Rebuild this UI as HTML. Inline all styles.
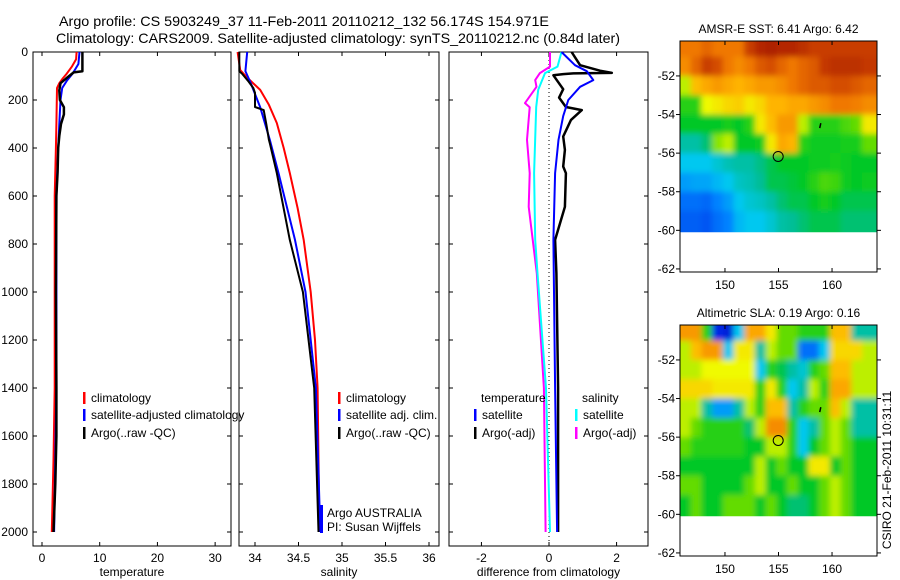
<!DOCTYPE html>
<html><head><meta charset="utf-8"><style>
html,body{margin:0;padding:0;background:#fff;}
svg{display:block;font-family:"Liberation Sans",sans-serif;}
</style></head><body>
<svg id="fig" width="900" height="580" viewBox="0 0 900 580">
<defs id="defs">
<filter id="blur" x="-5%" y="-5%" width="110%" height="110%"><feGaussianBlur stdDeviation="3"/></filter>
</defs>
<text x="59" y="26" font-size="14" textLength="490" lengthAdjust="spacingAndGlyphs">Argo profile: CS 5903249_37 11-Feb-2011 20110212_132 56.174S 154.971E</text>
<text x="56" y="43" font-size="14" textLength="564" lengthAdjust="spacingAndGlyphs">Climatology: CARS2009. Satellite-adjusted climatology: synTS_20110212.nc (0.84d later)</text>
<g id="g"></g>
</svg>
<script>
// ---------- DATA ----------
const depthTicks=[0,200,400,600,800,1000,1200,1400,1600,1800,2000];
const tTicks=[0,10,20,30];
const sTicks=[34,34.5,35,35.5,36];
const sTickLabels=["34","34.5","35","35.5","36"];
const dTicks=[-2,0,2];
// temperature profiles [depth, value]
const tClimDepth=[0,30,60,90,110,130,150,300,400,600,800,1000,1400,1700,2000];
const tClimVal=[6.0,5.9,5.2,4.3,3.6,3.0,2.6,2.5,2.4,2.2,2.2,2.2,2.2,2.0,1.7];
const tSatDepth=[0,50,90,120,150,200,300,400,600,1000,1400,2000];
const tSatVal=[6.5,6.3,5.3,4.3,3.5,3.2,3.0,2.8,2.5,2.5,2.5,2.1];
const tArgoDepth=[0,80,85,110,130,160,200,230,260,300,350,400,500,600,1000,1400,1600,1800,2000];
const tArgoVal=[7.0,7.0,5.5,4.2,3.2,3.0,3.1,3.8,3.8,3.3,3.0,2.8,2.7,2.5,2.4,2.5,2.5,2.3,2.0];
// salinity profiles
const sClimDepth=[0,75,110,158,220,296,400,504,650,783,1000,1200,1400,1700,2000];
const sClimVal=[33.80,33.83,33.92,34.06,34.16,34.25,34.33,34.40,34.49,34.56,34.64,34.69,34.72,34.73,34.74];
const sSatDepth=[0,80,129,230,366,504,783,1000,1400,2000];
const sSatVal=[33.91,33.89,33.95,34.06,34.17,34.27,34.46,34.58,34.70,34.75];
const sArgoDepth=[0,80,90,120,150,170,200,229,242,300,366,380,504,783,1000,1400,2000];
const sArgoVal=[33.82,33.82,33.85,33.92,33.98,34.00,34.00,34.00,34.10,34.13,34.16,34.17,34.25,34.40,34.55,34.68,34.73];
// differences from climatology
const dTsatDepth=[0,55,80,117,145,200,267,366,505,783,1400,2000];
const dTsatVal=[0.37,0.77,1.12,1.31,0.92,0.57,0.42,0.28,0.18,0.13,0.18,0.24];
const dTargoDepth=[0,55,78,87,89,92,97,155,190,229,242,283,352,408,477,505,645,783,922,1400,2000];
const dTargoVal=[0.67,0.92,1.51,1.86,0.72,0.42,0.13,0.42,0.3,0.5,0.97,0.65,0.42,0.47,0.42,0.5,0.47,0.18,0.22,0.27,0.27];
const dSsatDepth=[0,61,88,158,229,505,783,922,1400,2000];
const dSsatVal=[0.37,0.25,-0.12,-0.32,-0.38,-0.44,-0.41,-0.34,-0.09,0.03];
const dSargoDepth=[0,61,88,117,145,213,230,366,505,645,922,1400,2000];
const dSargoVal=[0.03,0.03,-0.27,-0.41,-0.37,-0.71,-0.57,-0.65,-0.57,-0.6,-0.36,-0.15,-0.1];
// maps
const mapLons=[146,147,148,149,150,151,152,153,154,155,156,157,158,159,160,161,162,163];
const mapLats=[-50.2,-51.2,-52.2,-53.2,-54.2,-55.2,-56.2,-57.2,-58.2,-59.2];
const lonTicks=[150,155,160];
const latTicks=[-52,-54,-56,-58,-60,-62];
const sstGrid=[
[0.75,0.75,0.78,0.75,0.75,0.75,0.85,0.9,0.92,0.9,0.9,0.88,0.85,0.85,0.85,0.85,0.85,0.85],
[0.72,0.78,0.85,0.82,0.75,0.72,0.75,0.8,0.82,0.78,0.75,0.78,0.8,0.86,0.88,0.88,0.88,0.86],
[0.55,0.65,0.68,0.7,0.68,0.66,0.68,0.7,0.7,0.72,0.75,0.78,0.8,0.8,0.82,0.82,0.8,0.78],
[0.45,0.45,0.58,0.6,0.62,0.63,0.6,0.62,0.66,0.66,0.68,0.68,0.7,0.72,0.75,0.75,0.74,0.72],
[0.42,0.42,0.42,0.42,0.44,0.42,0.45,0.6,0.65,0.7,0.7,0.55,0.45,0.45,0.45,0.48,0.5,0.6],
[0.35,0.35,0.38,0.52,0.55,0.42,0.42,0.43,0.6,0.68,0.66,0.45,0.43,0.43,0.43,0.44,0.44,0.5],
[0.3,0.3,0.3,0.32,0.34,0.35,0.35,0.37,0.4,0.42,0.42,0.42,0.43,0.43,0.44,0.43,0.42,0.42],
[0.25,0.26,0.26,0.28,0.3,0.33,0.34,0.36,0.4,0.4,0.41,0.42,0.45,0.48,0.47,0.43,0.42,0.43],
[0.2,0.2,0.19,0.22,0.25,0.3,0.32,0.33,0.35,0.38,0.4,0.4,0.42,0.44,0.42,0.4,0.4,0.4],
[0.18,0.18,0.17,0.2,0.22,0.28,0.3,0.3,0.32,0.35,0.36,0.38,0.4,0.4,0.4,0.38,0.38,0.38]];
const slaGrid=[
[0.7,0.7,0.45,0.12,0.1,0.3,0.68,0.68,0.6,0.5,0.5,0.45,0.45,0.45,0.65,0.65,0.35,0.35],
[0.55,0.65,0.7,0.7,0.3,0.6,0.6,0.35,0.55,0.5,0.5,0.2,0.2,0.3,0.62,0.62,0.62,0.55],
[0.55,0.55,0.58,0.58,0.58,0.58,0.58,0.3,0.45,0.4,0.35,0.32,0.45,0.5,0.65,0.65,0.55,0.55],
[0.62,0.62,0.62,0.6,0.6,0.6,0.6,0.45,0.6,0.45,0.3,0.35,0.55,0.45,0.68,0.68,0.55,0.55],
[0.55,0.55,0.35,0.25,0.25,0.35,0.55,0.45,0.65,0.65,0.35,0.45,0.5,0.5,0.65,0.55,0.35,0.35],
[0.55,0.5,0.45,0.45,0.45,0.45,0.38,0.55,0.72,0.72,0.45,0.3,0.35,0.5,0.55,0.5,0.35,0.35],
[0.5,0.45,0.45,0.45,0.45,0.45,0.42,0.42,0.55,0.55,0.45,0.3,0.42,0.5,0.55,0.5,0.42,0.42],
[0.42,0.42,0.42,0.42,0.42,0.42,0.42,0.55,0.42,0.5,0.42,0.42,0.6,0.6,0.42,0.5,0.42,0.42],
[0.5,0.5,0.42,0.42,0.42,0.42,0.5,0.55,0.42,0.42,0.5,0.42,0.42,0.5,0.55,0.5,0.42,0.42],
[0.42,0.5,0.42,0.42,0.5,0.5,0.5,0.42,0.5,0.42,0.38,0.38,0.42,0.5,0.55,0.5,0.42,0.42]];
const argoLon=[154.971];
const argoLat=[-56.174];

// ---------- DRAWING ----------
const NS="http://www.w3.org/2000/svg";
const root=document.getElementById('g');
const defs=document.getElementById('defs');
function mk(tag,attrs,parent){const e=document.createElementNS(NS,tag);for(const k in attrs)e.setAttribute(k,attrs[k]);(parent||root).appendChild(e);return e;}
function txt(x,y,s,size,anchor,parent){const t=mk('text',{x:x,y:y,'font-size':size,'text-anchor':anchor||'start'},parent);t.textContent=s;return t;}

const PTOP=52, PBOT=546;
function yD(d){return PTOP+d*0.24;}
const panels=[
 {x0:33,x1:231,v0:-1.56,v1:32.75,name:'temperature-panel'},
 {x0:239,x1:439,v0:33.816,v1:36.115,name:'salinity-panel'},
 {x0:449,x1:648,v0:-2.96,v1:2.93,name:'difference-panel'}];
function xf(p){return v=>p.x0+(v-p.v0)/(p.v1-p.v0)*(p.x1-p.x0);}

function drawFrame(p,ticks,labels,xlabel,leftLabels){
  const g=mk('g',{});
  
  
  const X=xf(p);
  mk('rect',{x:p.x0,y:PTOP,width:p.x1-p.x0,height:PBOT-PTOP,fill:'none',stroke:'#000','stroke-width':1},g);
  ticks.forEach((v,i)=>{const x=X(v);
    mk('line',{x1:x,y1:PBOT,x2:x,y2:PBOT-4,stroke:'#000'},g);
    mk('line',{x1:x,y1:PTOP,x2:x,y2:PTOP+4,stroke:'#000'},g);
    const t=txt(x,562,labels[i],12,'middle',g);
    
    });
  depthTicks.forEach(d=>{const y=yD(d);
    mk('line',{x1:p.x0,y1:y,x2:p.x0+4,y2:y,stroke:'#000'},g);
    mk('line',{x1:p.x1,y1:y,x2:p.x1-4,y2:y,stroke:'#000'},g);
    if(leftLabels){const t=txt(p.x0-5,y+4,String(d),12,'end',g);
      
      }});
  const xl=txt((p.x0+p.x1)/2,576,xlabel,12,'middle',g);
  
  
  return g;
}
function line(p,depths,vals,color,w,name){
  const X=xf(p);
  const pts=depths.map((d,i)=>X(vals[i]).toFixed(1)+','+yD(d).toFixed(1)).join(' ');
  const e=mk('polyline',{points:pts,fill:'none',stroke:color,'stroke-width':w,'stroke-linejoin':'round'});
  
  
}
function legend(x,y,color,label,name){
  const g=mk('g',{});
  
  
  mk('rect',{x:x,y:y-10,width:2.5,height:12,fill:color},g);
  txt(x+8,y,label,12,'start',g);
}

drawFrame(panels[0],tTicks,tTicks.map(String),'temperature',true);
drawFrame(panels[1],sTicks,sTickLabels,'salinity',false);
drawFrame(panels[2],dTicks,dTicks.map(String),'difference from climatology',false);

line(panels[0],tClimDepth,tClimVal,'#ff0000',2,'temperature-climatology-line');
line(panels[0],tSatDepth,tSatVal,'#0000ff',2,'temperature-satellite-line');
line(panels[0],tArgoDepth,tArgoVal,'#000000',2.5,'temperature-argo-line');
line(panels[1],sClimDepth,sClimVal,'#ff0000',2,'salinity-climatology-line');
line(panels[1],sSatDepth,sSatVal,'#0000ff',2,'salinity-satellite-line');
line(panels[1],sArgoDepth,sArgoVal,'#000000',2,'salinity-argo-line');
{const X=xf(panels[2]);const z=mk('line',{x1:X(0),y1:PTOP,x2:X(0),y2:PBOT,stroke:'#000','stroke-width':1,'stroke-dasharray':'1,3'});

}
line(panels[2],dSargoDepth,dSargoVal,'#ff00ff',2,'diff-salinity-argo-line');
line(panels[2],dSsatDepth,dSsatVal,'#00ffff',2,'diff-salinity-satellite-line');
line(panels[2],dTargoDepth,dTargoVal,'#000000',2.5,'diff-temperature-argo-line');
line(panels[2],dTsatDepth,dTsatVal,'#0000ff',2,'diff-temperature-satellite-line');

legend(83,402,'#ff0000','climatology','legend-climatology');
legend(83,419,'#0000ff','satellite-adjusted climatology','legend-satellite-adjusted');
legend(83,437,'#000000','Argo(..raw -QC)','legend-argo');
legend(338,402,'#ff0000','climatology','legend-sal-climatology');
legend(338,419,'#0000ff','satellite adj. clim.','legend-sal-satellite');
legend(338,437,'#000000','Argo(..raw -QC)','legend-sal-argo');
{const t=txt(481,402,'temperature',12,'start');
 const s=txt(582,402,'salinity',12,'start');}
legend(474,419,'#0000ff','satellite','legend-diff-t-satellite');
legend(474,437,'#000000','Argo(-adj)','legend-diff-t-argo');
legend(575,419,'#00ffff','satellite','legend-diff-s-satellite');
legend(575,437,'#ff00ff','Argo(-adj)','legend-diff-s-argo');
{const a=txt(327,517,'Argo AUSTRALIA',12,'start');
 const b=txt(327,531,'PI: Susan Wijffels',12,'start');
 mk('rect',{x:320,y:505,width:3,height:28,fill:'#0000ff'});}

// colormap
const stops=[[0,[0,0,140]],[0.12,[0,40,230]],[0.22,[0,130,255]],[0.3,[0,200,240]],[0.36,[0,190,150]],[0.42,[0,200,40]],[0.5,[100,220,0]],[0.58,[240,250,0]],[0.66,[255,180,0]],[0.75,[240,120,0]],[0.85,[200,60,0]],[1,[140,0,0]]];
function cmap(v){for(let i=1;i<stops.length;i++){if(v<=stops[i][0]){const a=stops[i-1],b=stops[i];const t=(v-a[0])/(b[0]-a[0]);
  const c=a[1].map((q,k)=>Math.round(q+(b[1][k]-q)*t));return 'rgb('+c.join(',')+')';}}return 'rgb(140,0,0)';}

function drawMap(top,grid,title,name,idx){
  const L=680,R=877,B=top+231;
  const lon0=145.8,lon1=164.2,latTop=-50.19,pxDeg=19.3;
  const X=lon=>L+(lon-lon0)/(lon1-lon0)*(R-L);
  const Y=lat=>top+(latTop-lat)*pxDeg;
  const g=mk('g',{});
  
  
  const cp=mk('clipPath',{id:'clip'+idx},defs);
  mk('rect',{x:L,y:top,width:R-L,height:Y(-60.1)-top},cp);
  const cells=mk('g',{'clip-path':'url(#clip'+idx+')'},g);
  const inner=mk('g',{filter:'url(#blur)'},cells);
  grid.forEach((row,r)=>row.forEach((v,c)=>{
    const lat=mapLats[r],lon=mapLons[c];
    const x=X(lon-0.2),y=Y(lat+0.2);
    const w=X(lon+1)-X(lon)+(c==mapLons.length-1?15:0)+(c==0?8:0);
    const h=Y(lat-1)-Y(lat);
    const e=mk('rect',{x:c==0?x-8:x,y:r==0?y-8:y,width:w+1,height:h+1+(r==0?8:0)+(r==mapLats.length-1?10:0),fill:cmap(v)},inner);
    
    
  }));
  mk('rect',{x:L,y:top,width:R-L,height:B-top,fill:'none',stroke:'#000'},g);
  lonTicks.forEach(lo=>{const x=X(lo);
    mk('line',{x1:x,y1:top,x2:x,y2:top+4,stroke:'#000'},g);
    mk('line',{x1:x,y1:B,x2:x,y2:B-4,stroke:'#000'},g);
    const t=txt(x,B+17,String(lo),12,'middle',g);
    
    });
  latTicks.forEach(la=>{const y=Y(la);
    mk('line',{x1:L,y1:y,x2:L-4,y2:y,stroke:'#000'},g);
    mk('line',{x1:R,y1:y,x2:R+4,y2:y,stroke:'#000'},g);
    const t=txt(L-5,y+4,String(la),12,'end',g);
    
    });
  argoLon.forEach((lo,i)=>{const c=mk('circle',{cx:X(lo),cy:Y(argoLat[i]),r:5,fill:'none',stroke:'#000','stroke-width':1},g);
    
    });
  mk('line',{x1:X(158.95),y1:Y(-54.45),x2:X(158.85),y2:Y(-54.7),stroke:'#000','stroke-width':1.5},g);
  const tt=txt((L+R)/2,top-8,title,12,'middle',g);
  
  
}
drawMap(41,sstGrid,'AMSR-E SST: 6.41 Argo: 6.42','sst-map',1);
drawMap(325,slaGrid,'Altimetric SLA: 0.19 Argo: 0.16','sla-map',2);
{const t=txt(0,0,'CSIRO 21-Feb-2011 10:31:11',12,'middle');
 t.setAttribute('transform','translate(891,470) rotate(-90)');
 
 }
</script>
</body></html>
